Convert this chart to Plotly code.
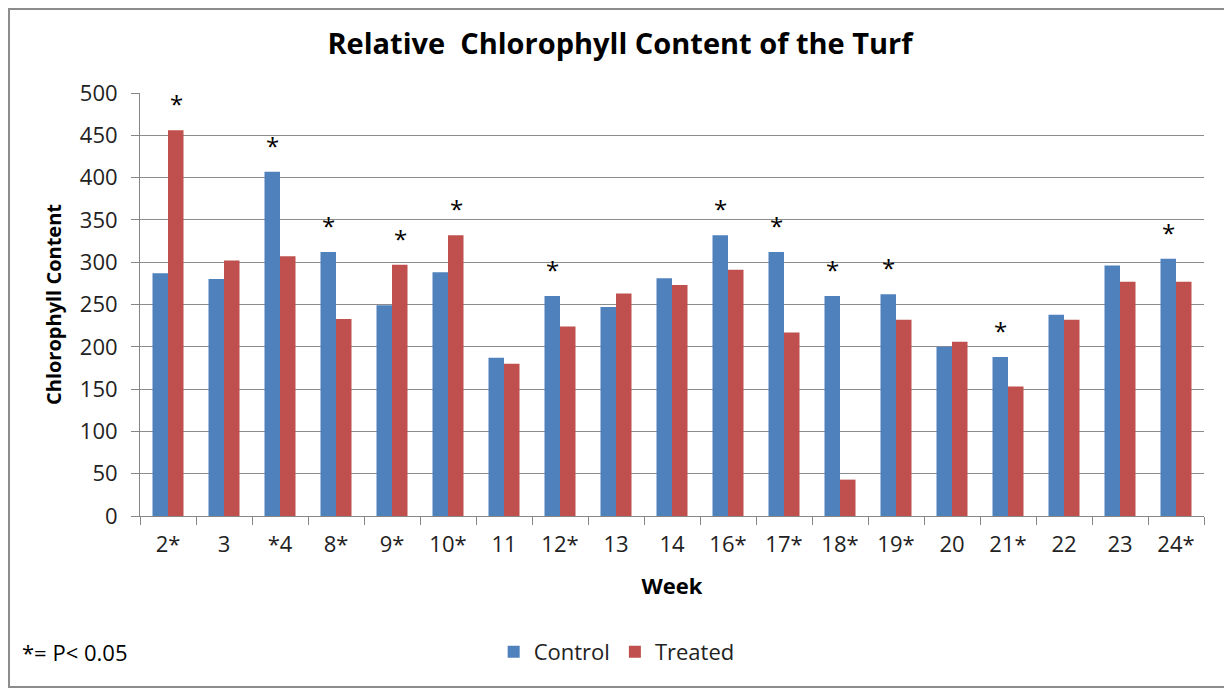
import plotly.graph_objects as go

weeks = ["2*", "3", "*4", "8*", "9*", "10*", "11", "12*", "13", "14",
         "16*", "17*", "18*", "19*", "20", "21*", "22", "23", "24*"]
control = [287, 280, 407, 312, 249, 288, 187, 260, 247, 281,
           332, 312, 260, 262, 200, 188, 238, 296, 304]
treated = [456, 302, 307, 233, 297, 332, 180, 224, 263, 273,
           291, 217, 43, 232, 206, 153, 232, 277, 277]

# which bar of each week carries the significance star
star_on = {"2*": "T", "*4": "C", "8*": "C", "9*": "T", "10*": "T", "12*": "C",
           "16*": "C", "17*": "C", "18*": "C", "19*": "C", "21*": "C", "24*": "C"}

FONT = "Open Sans"
BLUE = "#4F81BD"
RED = "#C0504D"

fig = go.Figure()
fig.add_trace(go.Bar(x=weeks, y=control, name="Control", marker_color=BLUE,
                     marker_line_width=0))
fig.add_trace(go.Bar(x=weeks, y=treated, name="Treated", marker_color=RED,
                     marker_line_width=0))

# stars above the significant bars
for i, w in enumerate(weeks):
    if w not in star_on:
        continue
    if star_on[w] == "C":
        val, dx = control[i], -8
    else:
        val, dx = treated[i], 8
    fig.add_annotation(x=w, y=val, text="*", showarrow=False, xshift=dx,
                       yanchor="bottom", yshift=8,
                       font=dict(family=FONT, size=24, color="black"))

fig.add_annotation(text="*= P< 0.05", xref="paper", yref="paper",
                   x=-0.113, y=-0.3215, xanchor="left", yanchor="middle",
                   showarrow=False, font=dict(family=FONT, size=22, color="black"))

# outer frame of the chart
fig.add_shape(type="rect", xref="paper", yref="paper",
              x0=-0.1231, x1=1.0254, y0=-0.4043, y1=1.1986,
              line=dict(color="#8c8c8c", width=2))

fig.update_layout(
    width=1224, height=680,
    margin=dict(l=132, r=28, t=85, b=172),
    paper_bgcolor="white", plot_bgcolor="white",
    barmode="group", bargap=0.446, bargroupgap=0,
    title=dict(text="Relative\u00a0\u00a0Chlorophyll Content of the Turf",
               x=0.5, xanchor="center", y=0.947, yanchor="middle",
               font=dict(family=FONT, size=29, color="black", weight="bold")),
    font=dict(family=FONT, size=20, color="#222222"),
    legend=dict(orientation="h", x=0.448, xanchor="center", y=-0.3215,
                yanchor="middle", font=dict(family=FONT, size=22, color="#222222"),
                itemwidth=30, traceorder="normal"),
    xaxis=dict(
        title=dict(text="Week", font=dict(family=FONT, size=22, color="black", weight="bold"),
                   standoff=21),
        showline=True, linecolor="#868686", linewidth=1,
        ticks="outside", tickson="boundaries", ticklen=8, tickcolor="#868686",
        ticklabelstandoff=9, showgrid=False,
        tickfont=dict(family=FONT, size=22, color="#222222"),
    ),
    yaxis=dict(
        title=dict(text="Chlorophyll Content",
                   font=dict(family=FONT, size=20, color="black", weight="bold"),
                   standoff=12),
        range=[0, 500], tick0=0, dtick=50,
        showline=True, linecolor="#868686", linewidth=1,
        ticks="outside", ticklen=8, tickcolor="#868686",
        showgrid=True, gridcolor="#8c8c8c", gridwidth=1,
        ticklabelstandoff=9, zeroline=False,
        tickfont=dict(family=FONT, size=22, color="#222222"),
    ),
)

fig.write_html("out.html")
